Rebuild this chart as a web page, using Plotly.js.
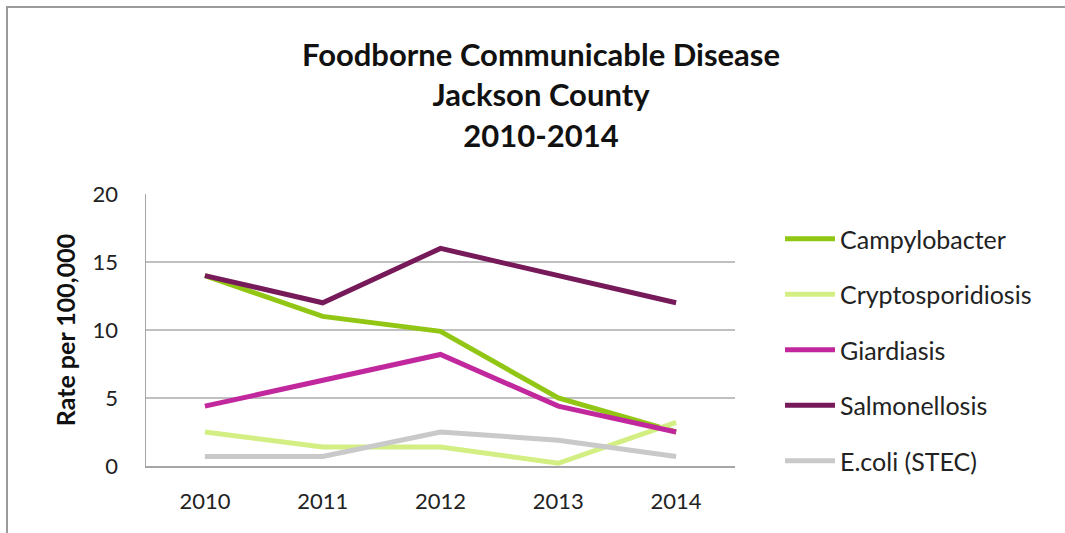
<!DOCTYPE html>
<html>
<head>
<meta charset="utf-8">
<script src="https://cdn.plot.ly/plotly-3.0.1.min.js"></script>
<style>
html,body{margin:0;padding:0;background:#fff;overflow:hidden;}
#frame{position:absolute;left:6px;top:6px;width:1200px;height:700px;border-left:2px solid #9a9a9a;border-top:2px solid #9a9a9a;}
#chart{position:absolute;left:0;top:0;width:1065px;height:533px;}
</style>
</head>
<body>
<div id="frame"></div>
<div id="chart"></div>
<script>
const years = ['2010', '2011', '2012', '2013', '2014'];
const campylobacter = [14, 11, 9.9, 5, 2.5];
const cryptosporidiosis = [2.5, 1.4, 1.4, 0.2, 3.2];
const giardiasis = [4.4, 6.3, 8.2, 4.4, 2.5];
const salmonellosis = [14, 12, 16, 14, 12];
const ecoli = [0.7, 0.7, 2.5, 1.9, 0.7];
const seriesNames = ['Campylobacter', 'Cryptosporidiosis', 'Giardiasis', 'Salmonellosis', 'E.coli (STEC)'];
const seriesColors = ['#92c614', '#d3ef84', '#c1289d', '#761a59', '#c9c9c9'];
const seriesValues = [campylobacter, cryptosporidiosis, giardiasis, salmonellosis, ecoli];
const yTicks = [0, 5, 10, 15, 20];

const FONT = 'Lato, sans-serif';
const traces = seriesValues.map((vals, i) => ({
  type: 'scatter', mode: 'lines',
  x: years, y: vals, name: seriesNames[i],
  legendgroup: 'g' + i,
  line: {color: seriesColors[i], width: 5}
}));

const layout = {
  width: 1065, height: 533,
  paper_bgcolor: 'rgba(0,0,0,0)', plot_bgcolor: 'rgba(0,0,0,0)',
  margin: {l: 146, r: 330, t: 194, b: 67},
  font: {family: FONT, color: '#222'},
  title: {
    text: '<b>Foodborne Communicable Disease<br>Jackson County<br>2010-2014</b>',
    font: {family: FONT, size: 31, color: '#111'},
    x: 541/1065, xanchor: 'center', xref: 'container',
    y: 1 - 66/533, yanchor: 'top', yref: 'container'
  },
  xaxis: {
    type: 'category', range: [-0.5, 4.5],
    showgrid: false, showline: true, linecolor: '#a6a6a6', linewidth: 1.5,
    ticks: '', tickfont: {family: FONT, size: 22, color: '#222'},
    ticklabelstandoff: 15, fixedrange: true
  },
  yaxis: {
    range: [0, 20], tickvals: yTicks,
    showgrid: true, gridcolor: '#c0c0c0', gridwidth: 1.5,
    showline: true, linecolor: '#a6a6a6', linewidth: 1.5,
    zeroline: false, ticks: '',
    tickfont: {family: FONT, size: 22, color: '#222'},
    ticklabelstandoff: 22,
    title: {text: '<b>Rate per 100,000</b>', font: {family: FONT, size: 25, color: '#111'}, standoff: 10},
    automargin: false, fixedrange: true
  },
  showlegend: true,
  legend: {
    x: 780/1065, xref: 'container', y: 1 - 216/533, yref: 'container', yanchor: 'top', xanchor: 'left',
    font: {family: FONT, size: 25, color: '#222'},
    itemwidth: 50,
    tracegroupgap: 20, bgcolor: 'rgba(0,0,0,0)'
  }
};

Plotly.newPlot('chart', traces, layout, {displayModeBar: false, staticPlot: true});
</script>
</body>
</html>
